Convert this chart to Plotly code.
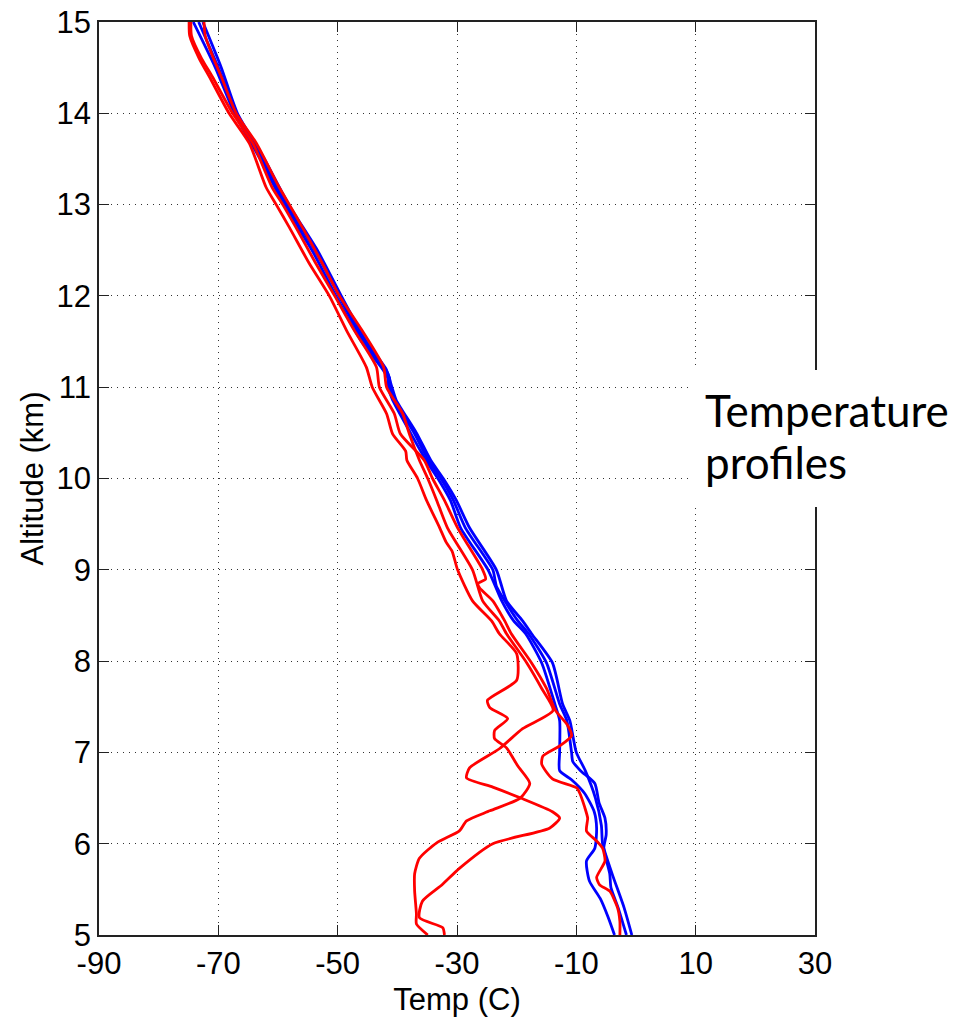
import plotly.graph_objects as go

# ---------------- data ----------------
alt_red1 = [15.0, 14.85, 14.6, 14.4, 14.0, 13.67, 13.19, 13.0, 12.75, 12.36, 12.0, 11.62, 11.22, 11.0,
            10.71, 10.49, 10.3, 10.2, 10.0, 9.76, 9.46, 9.3, 9.2, 9.0, 8.66, 8.44, 8.3, 8.08, 7.79,
            7.57, 7.49, 7.37, 7.24, 7.15, 7.05, 6.85, 6.66, 6.5, 6.36, 6.25, 6.14, 6.01, 5.84, 5.67,
            5.48, 5.23, 5.12, 5.0]
temp_red1 = [-74.9, -74.8, -73.2, -71.5, -68.2, -64.8, -62.0, -60.3, -58.1, -54.8, -51.4, -48.5, -45.2, -44.2,
             -41.8, -40.8, -38.6, -38.4, -36.6, -35.1, -32.9, -31.8, -30.8, -29.9, -27.4, -24.2, -22.9, -20.0, -20.0,
             -24.9, -24.5, -21.5, -23.7, -23.7, -21.7, -19.8, -17.8, -19.4, -24.5, -28.4, -29.6, -33.4, -36.3, -37.1,
             -37.1, -36.8, -36.8, -34.9]

alt_red2 = [15.0, 14.85, 14.6, 14.4, 14.0, 13.67, 13.19, 13.0, 12.75, 12.36, 12.0, 11.62, 11.22, 11.0,
            10.71, 10.49, 10.2, 10.0, 9.76, 9.46, 9.0, 8.66, 8.44, 8.3, 7.98, 7.7, 7.46, 7.26, 7.04,
            6.83, 6.72, 6.62, 6.5, 6.35, 6.28, 6.17, 6.0, 5.73, 5.55, 5.37, 5.19, 5.08, 5.0]
temp_red2 = [-72.4, -72.2, -70.8, -69.5, -67.0, -63.6, -59.8, -58.1, -55.9, -52.6, -49.7, -45.9, -42.3, -41.8,
             -39.1, -38.0, -36.3, -34.9, -33.4, -31.6, -27.4, -25.7, -22.9, -21.7, -18.3, -15.8, -13.9, -19.0, -22.9,
             -27.9, -28.4, -24.0, -19.3, -14.0, -12.8, -14.5, -24.0, -29.6, -32.5, -35.8, -36.3, -32.4, -32.1]

alt_red3 = [15.0, 14.85, 14.6, 14.4, 14.0, 13.67, 13.19, 13.0, 12.75, 12.36, 12.0, 11.62, 11.22, 11.0,
            10.71, 10.49, 10.2, 10.0, 9.76, 9.46, 9.0, 8.9, 8.85, 8.8, 8.66, 8.44, 8.3, 7.98, 7.7,
            7.46, 7.3, 7.18, 7.07, 6.96, 6.87, 6.71, 6.61, 6.55, 6.4, 6.28, 6.14, 6.03, 5.95, 5.81,
            5.63, 5.55, 5.48, 5.3, 5.15, 5.0]
temp_red3 = [-74.6, -74.5, -72.8, -71.0, -67.6, -64.2, -61.0, -59.2, -57.0, -53.7, -50.5, -47.2, -43.5, -43.0,
             -40.5, -39.5, -35.5, -34.1, -32.1, -29.9, -25.7, -25.2, -26.5, -26.2, -24.0, -22.0, -20.9, -17.5, -15.0,
             -13.5, -11.5, -10.8, -12.8, -15.6, -15.8, -14.0, -9.9, -9.4, -8.6, -8.1, -8.3, -6.6, -5.6, -5.2,
             -6.6, -6.1, -4.4, -3.1, -2.7, -2.7]

alt_blue1 = [15.0, 14.5, 14.0, 13.5, 13.0, 12.5, 12.0, 11.5, 11.2, 11.1, 11.0, 10.86, 10.5, 10.2, 10.0,
             9.76, 9.46, 9.0, 8.66, 8.44, 8.3, 7.98, 7.53, 7.35, 7.0, 6.8, 6.7, 6.55, 6.35, 6.17,
             5.95, 5.81, 5.59, 5.4, 5.2, 5.0]
temp_blue1 = [-74.2, -70.5, -67.3, -63.0, -59.0, -54.3, -50.3, -46.0, -42.5, -41.6, -41.5, -40.8, -37.8, -35.2, -33.2,
              -31.1, -29.4, -24.8, -22.5, -20.5, -18.5, -15.8, -13.6, -12.8, -12.8, -12.8, -10.8, -8.6, -7.0, -6.6,
              -6.9, -8.3, -7.8, -6.0, -4.7, -3.6]

alt_blue2 = [15.0, 14.5, 14.0, 13.5, 13.0, 12.5, 12.0, 11.5, 11.2, 11.1, 11.0, 10.86, 10.5, 10.2, 10.0,
             9.76, 9.46, 9.0, 8.88, 8.82, 8.66, 8.44, 8.3, 7.98, 7.53, 7.35, 7.0, 6.9, 6.8, 6.66,
             6.45, 6.28, 6.1, 5.95, 5.67, 5.52, 5.3, 5.0]
temp_blue2 = [-73.3, -70.0, -67.0, -62.6, -58.6, -53.8, -49.8, -45.6, -42.0, -41.3, -41.2, -40.5, -37.2, -34.8, -32.7,
              -30.6, -28.6, -24.0, -23.6, -23.4, -22.0, -19.8, -18.0, -15.0, -12.8, -11.6, -10.8, -10.6, -9.3, -6.9,
              -6.2, -5.2, -5.0, -5.4, -4.4, -4.2, -3.0, -1.6]

alt_blue3 = [15.0, 14.5, 14.0, 13.5, 13.0, 12.5, 12.0, 11.5, 11.2, 11.0, 10.86, 10.5, 10.2, 10.0, 9.76,
             9.46, 9.0, 8.66, 8.44, 8.3, 7.98, 7.53, 7.35, 7.0, 6.8, 6.5, 6.2, 6.0, 5.67, 5.3, 5.0]
temp_blue3 = [-72.6, -69.5, -66.8, -62.3, -58.2, -53.4, -49.4, -45.2, -41.9, -40.9, -40.2, -36.8, -34.4, -32.3, -30.1,
              -27.9, -23.4, -21.7, -19.0, -17.5, -14.0, -12.3, -11.1, -10.0, -8.5, -6.8, -5.8, -5.6, -4.0, -2.0, -0.7]

x_ticks = [-90, -70, -50, -30, -10, 10, 30]
y_ticks = [5, 6, 7, 8, 9, 10, 11, 12, 13, 14, 15]

blue_profiles = [(temp_blue1, alt_blue1), (temp_blue2, alt_blue2), (temp_blue3, alt_blue3)]
red_profiles = [(temp_red1, alt_red1), (temp_red2, alt_red2), (temp_red3, alt_red3)]

# ---------------- figure ----------------
fig = go.Figure()
for t, a in blue_profiles:
    fig.add_trace(go.Scatter(x=t, y=a, mode="lines",
                             line=dict(color="#0000ff", width=2.8, shape="spline", smoothing=0.6),
                             showlegend=False, hoverinfo="skip"))
for t, a in red_profiles:
    fig.add_trace(go.Scatter(x=t, y=a, mode="lines",
                             line=dict(color="#ff0000", width=2.8, shape="spline", smoothing=0.6),
                             showlegend=False, hoverinfo="skip"))

font_main = "Liberation Sans, Arial, Helvetica, sans-serif"
axis_common = dict(
    showline=True, linecolor="#222222", linewidth=1.5, mirror="ticks",
    ticks="inside", ticklen=10, tickwidth=1, tickcolor="#222222",
    showgrid=True, gridcolor="#333333", gridwidth=1, griddash="1px,5px",
    zeroline=False, automargin=False,
    tickfont=dict(family=font_main, size=31, color="black"),
)

fig.update_xaxes(range=[-90, 30], tickvals=x_ticks, ticktext=[str(v) for v in x_ticks],
                 title=dict(text="Temp (C)", font=dict(family=font_main, size=31, color="black"), standoff=8),
                 **axis_common)
fig.update_yaxes(range=[5, 15], tickvals=y_ticks, ticktext=[str(v) for v in y_ticks],
                 title=dict(text="Altitude (km)", font=dict(family=font_main, size=31, color="black"), standoff=4),
                 **axis_common)

# white box with the side caption
fig.add_shape(type="rect", xref="paper", yref="paper", x0=0.8254, x1=1.21, y0=0.4688, y1=0.6188,
              fillcolor="white", line=dict(width=0), layer="above")
fig.add_annotation(text="Temperature", xref="paper", yref="paper", x=0.843, y=0.575,
                   xanchor="left", yanchor="middle", showarrow=False,
                   font=dict(family="Lato, Carlito, Calibri, sans-serif", size=44, color="black"))
fig.add_annotation(text="profiles", xref="paper", yref="paper", x=0.843, y=0.518,
                   xanchor="left", yanchor="middle", showarrow=False,
                   font=dict(family="Lato, Carlito, Calibri, sans-serif", size=44, color="black"))

fig.update_layout(
    width=959, height=1018,
    margin=dict(l=99, r=144, t=22, b=83),
    paper_bgcolor="white", plot_bgcolor="white",
    showlegend=False,
)

fig.write_html("out.html")
